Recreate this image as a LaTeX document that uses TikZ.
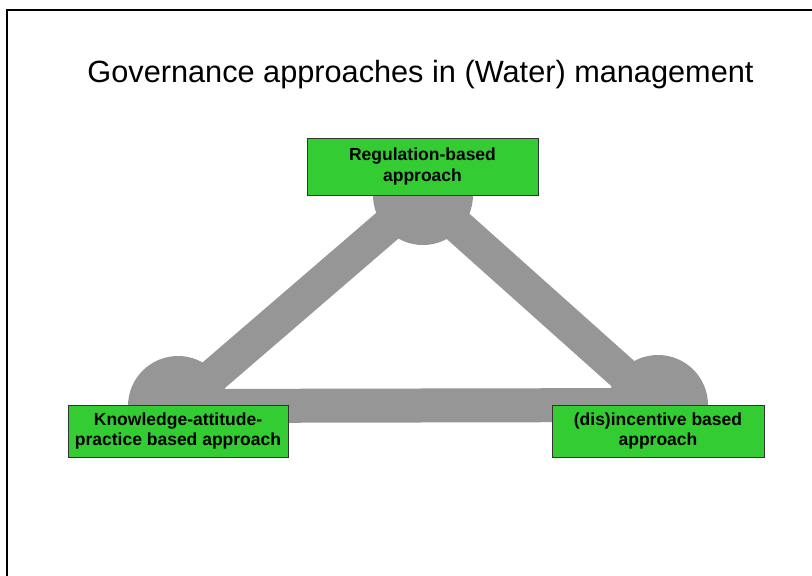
\documentclass[tikz,border=0pt]{standalone}
\usepackage{fontspec}
\setmainfont{Liberation Sans}

\definecolor{hubgray}{RGB}{150,150,150}
\definecolor{boxgreen}{RGB}{51,204,51}

\tikzset{
  approach/.style={draw=black!80, fill=boxgreen, line width=0.8pt, align=center,
    inner sep=0pt, font=\bfseries\fontsize{17.5}{20.5}\selectfont},
  band/.style={draw=hubgray, line width=34pt, line join=round},
}

\begin{document}
\begin{tikzpicture}[x=1pt, y=-1pt]
  \useasboundingbox (0,0) rectangle (812,576);
  \clip (0,0) rectangle (812,576);

  % frame, runs off the page to the right and below
  \draw[line width=1.6pt] (7,10) rectangle (840,600);

  \node[anchor=base, font=\fontsize{30.7}{36}\selectfont] (title) at (420.5,82)
    {Governance approaches in (Water) management};

  % hub centres of the triangle
  \coordinate (regc) at (423,195);
  \coordinate (kapc) at (178,406);
  \coordinate (incc) at (658,405);

  \foreach \c in {regc,kapc,incc}
    \fill[hubgray] (\c) circle (50pt);
  \draw[band] (regc) -- (kapc) -- (incc) -- cycle;

  \node[approach, minimum width=231pt, minimum height=57pt] (reg) at (422.5,166.5)
    {Regulation-based\\approach};
  \node[approach, minimum width=220pt, minimum height=52pt] (kap) at (178,431)
    {Knowledge-attitude-\\practice based approach};
  \node[approach, minimum width=212pt, minimum height=52pt] (inc) at (658,431)
    {(dis)incentive based\\approach};
\end{tikzpicture}
\end{document}
